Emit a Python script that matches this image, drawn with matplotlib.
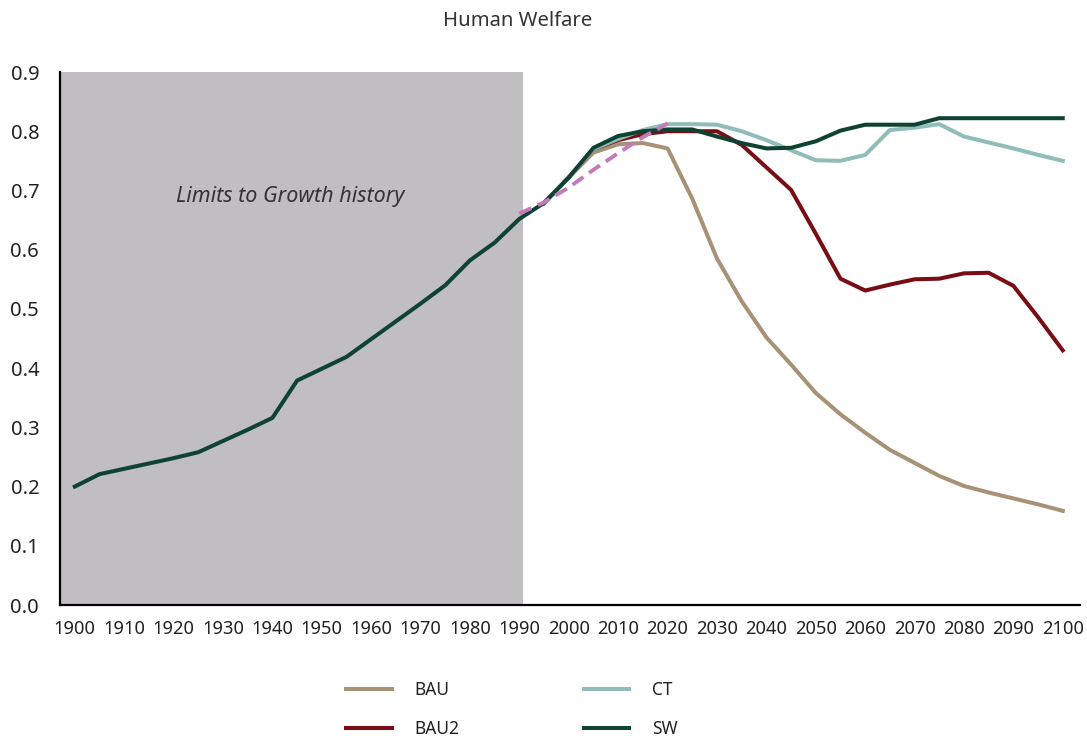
import matplotlib.pyplot as plt
import numpy as np

plt.rcParams["font.family"] = ["Noto Sans", "DejaVu Sans"]

# history (shared by all scenarios), every 5 years
hist_years = list(range(1900, 1995, 5))
hist_vals = [0.200, 0.221, 0.230, 0.239, 0.248, 0.258, 0.277, 0.296, 0.316, 0.379,
             0.399, 0.419, 0.449, 0.479, 0.509, 0.540, 0.582, 0.612, 0.652]

# scenarios from 1995 on
scen_years = list(range(1995, 2105, 5))
bau = [0.679, 0.722, 0.764, 0.778, 0.780, 0.771, 0.686, 0.585, 0.513, 0.452, 0.406,
       0.358, 0.322, 0.291, 0.262, 0.240, 0.218, 0.201, 0.190, 0.180, 0.170, 0.159]
bau2 = [0.679, 0.722, 0.770, 0.785, 0.795, 0.800, 0.800, 0.800, 0.777, 0.739, 0.701,
        0.627, 0.551, 0.531, 0.541, 0.550, 0.551, 0.560, 0.561, 0.539, 0.486, 0.430]
ct = [0.679, 0.722, 0.770, 0.787, 0.802, 0.812, 0.812, 0.811, 0.800, 0.785, 0.768,
      0.751, 0.750, 0.760, 0.802, 0.806, 0.812, 0.791, 0.781, 0.771, 0.760, 0.750]
sw = [0.679, 0.722, 0.772, 0.792, 0.800, 0.803, 0.803, 0.791, 0.780, 0.771, 0.772,
      0.783, 0.801, 0.811, 0.811, 0.811, 0.822, 0.822, 0.822, 0.822, 0.822, 0.822]

# observed data (dashed)
obs_years = [1990, 1995, 2000, 2005, 2010, 2015, 2020]
obs_vals = [0.661, 0.680, 0.705, 0.735, 0.763, 0.790, 0.813]

colors = {"BAU": "#a89276", "BAU2": "#780d14", "CT": "#90bdb9", "SW": "#0e4232"}

fig = plt.figure(figsize=(10.87, 7.4), dpi=100)
ax = fig.add_axes([0.0552, 0.1824, 0.9384, 0.7203])

ax.axvspan(1897, 1990.8, color="#c0bec1", lw=0, zorder=0)
ax.text(1943.5, 0.690, "Limits to Growth history", style="italic", fontsize=15.5,
        color="#333333", ha="center", va="center")

lw = 2.9
ax.plot(scen_years, bau, color=colors["BAU"], lw=lw, label="BAU", zorder=2)
ax.plot(scen_years, bau2, color=colors["BAU2"], lw=lw, label="BAU2", zorder=3)
ax.plot(scen_years, ct, color=colors["CT"], lw=lw, label="CT", zorder=4)
ax.plot(hist_years + scen_years, hist_vals + sw, color=colors["SW"], lw=lw,
        label="SW", zorder=5)
ax.plot(obs_years, obs_vals, color="#c47bb9", lw=2.8, ls=(0, (3.4, 1.8)),
        zorder=6)

ax.set_xlim(1897, 2103.5)
ax.set_ylim(0, 0.9)
ax.set_xticks(np.arange(1900, 2101, 10))
ax.set_yticks(np.arange(0, 0.91, 0.1))
ax.set_yticklabels([f"{v:.1f}" for v in np.arange(0, 0.91, 0.1)])
ax.tick_params(axis="x", length=0, pad=11, labelsize=13.2, labelcolor="#222222")
ax.tick_params(axis="y", length=0, pad=15, labelsize=14.5, labelcolor="#222222")

for s in ["top", "right"]:
    ax.spines[s].set_visible(False)
for s in ["left", "bottom"]:
    ax.spines[s].set_linewidth(1.6)
    ax.spines[s].set_color("black")

fig.text(0.476, 0.972, "Human Welfare", ha="center", va="center", fontsize=14.6,
         color="#333333")

handles, labels = ax.get_legend_handles_labels()
fig.legend(handles, labels, loc="center", bbox_to_anchor=(0.471, 0.041), ncol=2,
           frameon=False, fontsize=12.5, handlelength=2.6, handletextpad=1.3,
           columnspacing=7.2, labelspacing=1.2, labelcolor="#222222",
           borderaxespad=0, borderpad=0.2)

fig.savefig("out.png", dpi=100)
